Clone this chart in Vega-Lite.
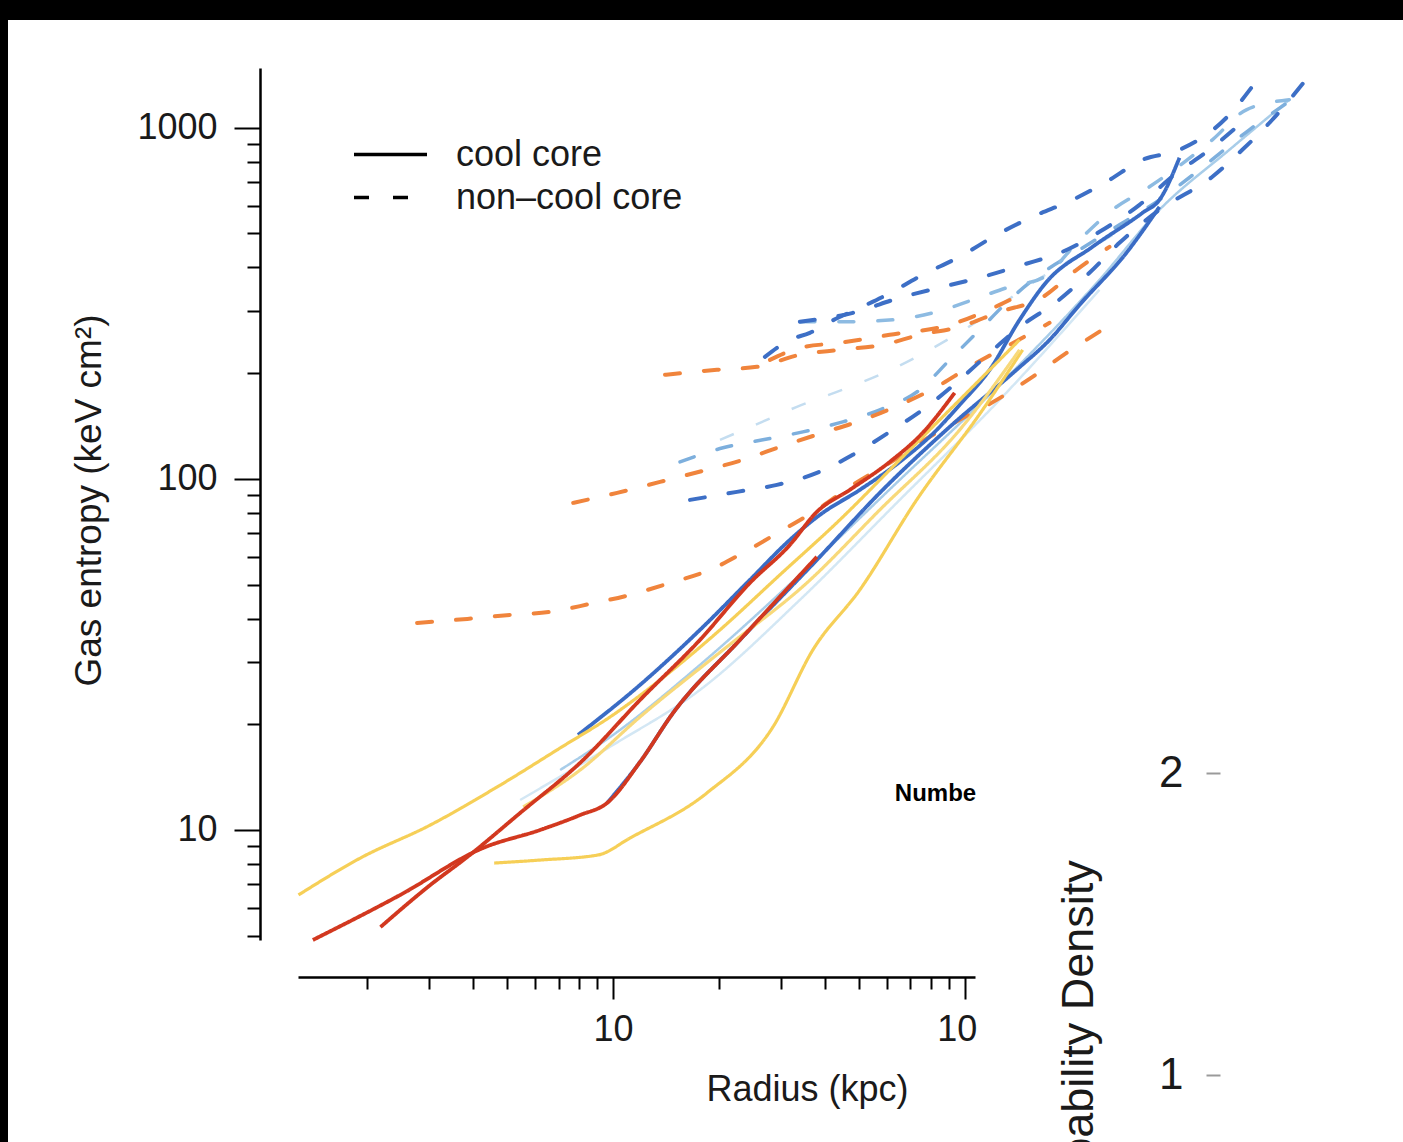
{
  "$schema": "https://vega.github.io/schema/vega-lite/v6.json",
  "width": 1395,
  "height": 1122,
  "autosize": {"type": "none"},
  "padding": {"left": 8, "top": 20, "right": 0, "bottom": 0},
  "background": "black",
  "config": {
    "view": {"fill": "white", "stroke": null},
    "font": "Liberation Sans",
    "text": {"font": "Liberation Sans"}
  },
  "datasets": {
    "profiles": [
      {"id": "L2", "core": "cool core", "r": [5.44, 10, 17.66, 33.98, 65.36, 125.7, 241.8], "K": [12.17, 17.47, 25.05, 45.22, 87.14, 167.9, 345.5]},
      {"id": "V1", "core": "non–cool core", "r": [20.14, 26.16, 33.32, 43.3, 57.35, 79.54, 110.3, 153.0, 212.2, 294.3], "K": [129.2, 144.4, 160.4, 177.0, 197.9, 233.1, 283.8, 357.1, 434.8, 529.2]},
      {"id": "L1", "core": "cool core", "r": [7.07, 10, 17.66, 33.98, 65.36, 125.7, 241.8, 358.1, 566.1, 838.1], "K": [14.82, 18.65, 29.52, 53.28, 99.36, 185.3, 369.0, 583.9, 865.5, 1202]},
      {"id": "M1", "core": "non–cool core", "r": [15.5, 20.54, 26.68, 34.65, 45.02, 57.35, 74.49, 90.64, 110.3, 134.2, 163.4, 212.2, 275.6, 358.1, 465.2, 645.1, 894.6], "K": [111.8, 122.6, 129.2, 136.1, 145.3, 157.3, 179.3, 218.3, 265.8, 323.6, 381.2, 449.2, 529.2, 623.4, 759.2, 986.9, 1242]},
      {"id": "M2", "core": "non–cool core", "r": [33.98, 44.14, 62.44, 83.27, 105.4, 134.2, 166.6, 212.2, 263.3, 335.5, 506.4, 632.5, 838.1], "K": [280.1, 280.1, 283.8, 299.1, 323.6, 352.4, 373.8, 479.6, 583.9, 679.0, 924.3, 1125, 1202]},
      {"id": "O1", "core": "non–cool core", "r": [2.77, 3.85, 5.1, 6.62, 8.6, 11.18, 14.52, 18.86, 23.41, 30.41, 37.98, 48.07, 61.22, 79.54, 96.77, 123.3, 156.0, 194.9, 246.6], "K": [38.88, 39.92, 40.98, 41.8, 44.05, 46.73, 50.55, 55.05, 61.54, 71.57, 81.6, 96.15, 111.1, 131.8, 147.3, 167.9, 195.3, 228.6, 265.8]},
      {"id": "O2", "core": "non–cool core", "r": [7.7, 10.27, 13.6, 18.01, 23.41, 30.41, 39.51, 49.34, 65.36, 83.27, 103.3, 134.2, 174.4], "K": [85.43, 91.24, 98.06, 105.4, 113.3, 124.2, 135.3, 145.3, 162.5, 182.9, 208.5, 240.9, 278.2]},
      {"id": "O3", "core": "non–cool core", "r": [14.05, 19.74, 25.65, 33.98, 44.14, 58.48, 74.49, 96.77, 125.7, 165.5, 208.1, 258.2], "K": [197.9, 204.5, 208.5, 225.6, 233.1, 240.9, 257.2, 271.0, 299.1, 327.9, 394.0, 458.1]},
      {"id": "O4", "core": "non–cool core", "r": [27.93, 33.98, 44.14, 61.22, 90.64, 125.7, 153.0], "K": [218.3, 236.2, 244.1, 257.2, 274.6, 313.1, 345.5]},
      {"id": "D1", "core": "non–cool core", "r": [16.55, 22.51, 29.24, 37.98, 48.07, 62.44, 77.98, 96.77, 117.8, 146.2, 182.6, 226.5, 275.6, 358.1, 506.4, 616.2, 749.9, 924.5], "K": [87.14, 91.84, 96.15, 104.0, 117.1, 137.9, 160.4, 191.5, 228.6, 274.6, 319.3, 386.4, 470.3, 583.9, 725.1, 865.5, 1053.9, 1352]},
      {"id": "D2", "core": "non–cool core", "r": [27.03, 31.83, 36.28, 41.36, 50.32, 60.04, 75.96, 96.77, 123.3, 156.0, 202.7, 253.1, 320.5, 408.2, 555.1, 679.7], "K": [222.6, 248.9, 260.6, 280.1, 307.0, 334.4, 381.2, 429.1, 495.6, 557.7, 623.4, 701.7, 810.6, 865.5, 1068, 1370]},
      {"id": "D3", "core": "non–cool core", "r": [33.98, 48.07, 65.36, 86.6, 112.5, 146.2, 189.9, 241.8, 314.3, 395.1, 496.6, 604.1], "K": [280.1, 297.1, 327.9, 352.4, 376.2, 407.1, 443.4, 505.4, 603.3, 734.7, 865.5, 1019.8]},
      {"id": "B1", "core": "cool core", "r": [7.95, 11.93, 17.66, 24.5, 31.83, 38.74, 50.32, 65.36, 82.19, 96.77, 117.8, 143.3, 171.0, 231.0, 320.5, 358.1, 408.2], "K": [18.65, 25.89, 37.14, 51.56, 67.03, 78.97, 93.05, 111.8, 136.1, 162.5, 204.5, 283.8, 364.1, 458.1, 572.5, 623.4, 821.3]},
      {"id": "B2", "core": "cool core", "r": [9.62, 11.93, 14.81, 22.95, 37.98, 58.48, 90.64, 140.5, 174.4, 212.2, 288.5, 358.1], "K": [11.94, 15.62, 21.54, 34.78, 58.76, 93.05, 140.6, 204.5, 248.9, 313.1, 440.5, 595.5]},
      {"id": "Y1", "core": "cool core", "r": [1.274, 1.911, 3.02, 4.78, 7.07, 10, 13.6, 20.14, 29.81, 44.14, 65.36, 96.77, 143.3], "K": [6.53, 8.32, 10.33, 13.43, 17.12, 21.27, 26.75, 37.14, 53.28, 76.42, 113.3, 167.9, 248.9]},
      {"id": "Y2", "core": "cool core", "r": [4.59, 6.2, 9.07, 11.18, 18.49, 28.48, 37.0, 50.32, 73.03, 112.5, 146.2], "K": [8.05, 8.21, 8.49, 9.49, 12.75, 19.65, 32.57, 48.29, 87.14, 157.3, 233.1]},
      {"id": "Y3", "core": "cool core", "r": [5.55, 8.06, 11.93, 20.54, 35.57, 57.35, 96.77, 143.3], "K": [11.63, 14.82, 20.99, 32.57, 50.55, 81.6, 137.9, 233.1]},
      {"id": "R1", "core": "cool core", "r": [1.4, 2.48, 4.27, 6.2, 8.06, 9.62, 11.93, 14.81, 22.95, 37.98], "K": [4.86, 6.53, 8.89, 10.0, 11.03, 11.94, 15.62, 21.54, 34.78, 59.96]},
      {"id": "R2", "core": "cool core", "r": [2.18, 3.02, 3.85, 5.44, 8.22, 11.93, 17.66, 24.5, 31.83, 37.98, 47.13, 61.22, 75.96, 93.65], "K": [5.29, 6.97, 8.38, 11.18, 15.83, 23.46, 34.78, 50.55, 64.86, 80.54, 93.05, 111.8, 135.3, 175.8]},
      {"id": "note", "core": "note", "label": "Numbe", "r": [63.3], "K": [12.1]}
    ]
  },
  "resolve": {"scale": {"y": "independent"}},
  "layer": [
    {
      "data": {"name": "profiles"},
      "transform": [{"flatten": ["r", "K"]}],
      "encoding": {
        "x": {
          "field": "r", "type": "quantitative",
          "scale": {"type": "log", "domain": [1.27, 107], "range": [290, 967], "nice": false, "zero": false},
          "axis": {
            "orient": "bottom", "offset": -165, "grid": false,
            "values": [2, 3, 4, 5, 6, 7, 8, 9, 10, 20, 30, 40, 50, 60, 70, 80, 90, 100],
            "domainColor": "black", "domainWidth": 2.5,
            "tickColor": "black", "tickWidth": 2,
            "tickSize": {"condition": {"test": "datum.value == 10 || datum.value == 100", "value": 22}, "value": 12},
            "labelExpr": "datum.value == 10 || datum.value == 100 ? '10' : ''",
            "labelOffset": {"condition": {"test": "datum.value == 100", "value": -8}, "value": 0},
            "labelFlush": false, "labelOverlap": false,
            "labelFont": "Liberation Sans", "labelFontSize": 36, "labelColor": "#1a1a1a", "labelPadding": 13,
            "title": "Radius (kpc)", "titleFont": "Liberation Sans", "titleFontSize": 36, "titleFontWeight": "normal", "titleColor": "#1a1a1a",
            "titleX": 799, "titleY": 123, "titleBaseline": "alphabetic", "titleAlign": "center", "titleAngle": 0
          }
        },
        "y": {
          "field": "K", "type": "quantitative",
          "scale": {"type": "log", "domain": [4.86, 1480], "range": [920, 48], "nice": false, "zero": false},
          "axis": {
            "orient": "left", "offset": -252, "grid": false,
            "values": [5, 6, 7, 8, 9, 10, 20, 30, 40, 50, 60, 70, 80, 90, 100, 200, 300, 400, 500, 600, 700, 800, 900, 1000],
            "domainColor": "black", "domainWidth": 2.5,
            "tickColor": "black", "tickWidth": 2,
            "tickSize": {"condition": {"test": "datum.value == 10 || datum.value == 100 || datum.value == 1000", "value": 26}, "value": 13},
            "labelExpr": "datum.value == 10 || datum.value == 100 || datum.value == 1000 ? '' + datum.value : ''",
            "labelOverlap": false, "labelFlush": false,
            "labelFont": "Liberation Sans", "labelFontSize": 36, "labelColor": "#1a1a1a", "labelPadding": 17,
            "title": "Gas entropy  (keV cm²)", "titleFont": "Liberation Sans", "titleFontSize": 37, "titleFontWeight": "normal", "titleColor": "#1a1a1a",
            "titleX": -160, "titleY": 480, "titleAngle": -90, "titleBaseline": "alphabetic", "titleAlign": "center"
          }
        }
      },
      "layer": [
        {
          "transform": [{"filter": {"field": "id", "oneOf": ["L2", "V1", "L1", "M1", "M2", "O1", "O2", "O3", "O4", "D1", "D2", "D3", "B1", "B2", "Y1", "Y2", "Y3", "R1", "R2"]}}],
          "encoding": {
            "color": {
              "field": "id", "type": "nominal", "legend": null,
              "scale": {
                "domain": ["L2", "V1", "L1", "M1", "M2", "O1", "O2", "O3", "O4", "D1", "D2", "D3", "B1", "B2", "Y1", "Y2", "Y3", "R1", "R2"],
                "range": ["#d3e7f4", "#c4ddf0", "#a8cde9", "#7dafdd", "#8dbbe2", "#f0843c", "#f0843c", "#f0843c", "#f0843c", "#3d6fc6", "#3d6fc6", "#3d6fc6", "#3a6cc5", "#3a6cc5", "#f6cf57", "#f6cf57", "#f8d97a", "#d2381f", "#d2381f"]
              }
            },
            "strokeDash": {
              "field": "core", "type": "nominal",
              "scale": {"domain": ["cool core", "non–cool core"], "range": [[1, 0], [15, 24]]},
              "legend": {
                "orient": "none", "legendX": 344, "legendY": 117, "title": null,
                "symbolType": "stroke", "symbolSize": 5329, "symbolStrokeWidth": 3.5, "symbolStrokeColor": "black",
                "clipHeight": 35, "rowPadding": 6, "padding": 0, "symbolOffset": 0, "labelLimit": 500,
                "labelFont": "Liberation Sans", "labelFontSize": 36, "labelColor": "#1a1a1a", "labelOffset": 27
              }
            }
          },
          "layer": [
            {"transform": [{"filter": {"field": "id", "oneOf": ["L2", "V1", "L1"]}}], "mark": {"type": "line", "interpolate": "monotone", "strokeWidth": 2.5}},
            {"transform": [{"filter": {"field": "id", "oneOf": ["M1", "M2"]}}], "mark": {"type": "line", "interpolate": "monotone", "strokeWidth": 3.5, "strokeCap": "round"}},
            {"transform": [{"filter": {"field": "id", "oneOf": ["O1", "O2", "O3", "O4", "D1", "D2", "D3"]}}], "mark": {"type": "line", "interpolate": "monotone", "strokeWidth": 4, "strokeCap": "round"}},
            {"transform": [{"filter": {"field": "id", "oneOf": ["B1", "B2"]}}], "mark": {"type": "line", "interpolate": "monotone", "strokeWidth": 3.8}},
            {"transform": [{"filter": {"field": "id", "oneOf": ["Y1", "Y2", "Y3"]}}], "mark": {"type": "line", "interpolate": "monotone", "strokeWidth": 3.2}},
            {"transform": [{"filter": {"field": "id", "oneOf": ["R1", "R2"]}}], "mark": {"type": "line", "interpolate": "monotone", "strokeWidth": 3.8}}
          ]
        },
        {
          "transform": [{"filter": {"field": "id", "equal": "note"}}],
          "mark": {"type": "text", "align": "left", "baseline": "alphabetic", "fontSize": 24, "fontWeight": "bold", "font": "Liberation Sans", "color": "black"},
          "encoding": {"text": {"field": "label"}}
        }
      ]
    },
    {
      "data": {"values": [{"density": 1}, {"density": 2}]},
      "mark": {"type": "point", "opacity": 0},
      "encoding": {
        "y": {
          "field": "density", "type": "quantitative",
          "scale": {"domain": [0, 3], "range": [1357, 451], "nice": false, "zero": false},
          "axis": {
            "orient": "left", "offset": -1212, "values": [1, 2], "domain": false, "grid": false,
            "tickColor": "#9a9a9a", "tickWidth": 2, "tickSize": 14,
            "labelFont": "Liberation Sans", "labelFontSize": 44, "labelColor": "#1a1a1a", "labelPadding": 23,
            "title": "Probability Density", "titleFont": "Liberation Sans", "titleFontSize": 45, "titleFontWeight": "normal", "titleColor": "#1a1a1a",
            "titleX": -128, "titleY": 1026, "titleAngle": -90, "titleBaseline": "alphabetic", "titleAlign": "center"
          }
        }
      }
    }
  ]
}
